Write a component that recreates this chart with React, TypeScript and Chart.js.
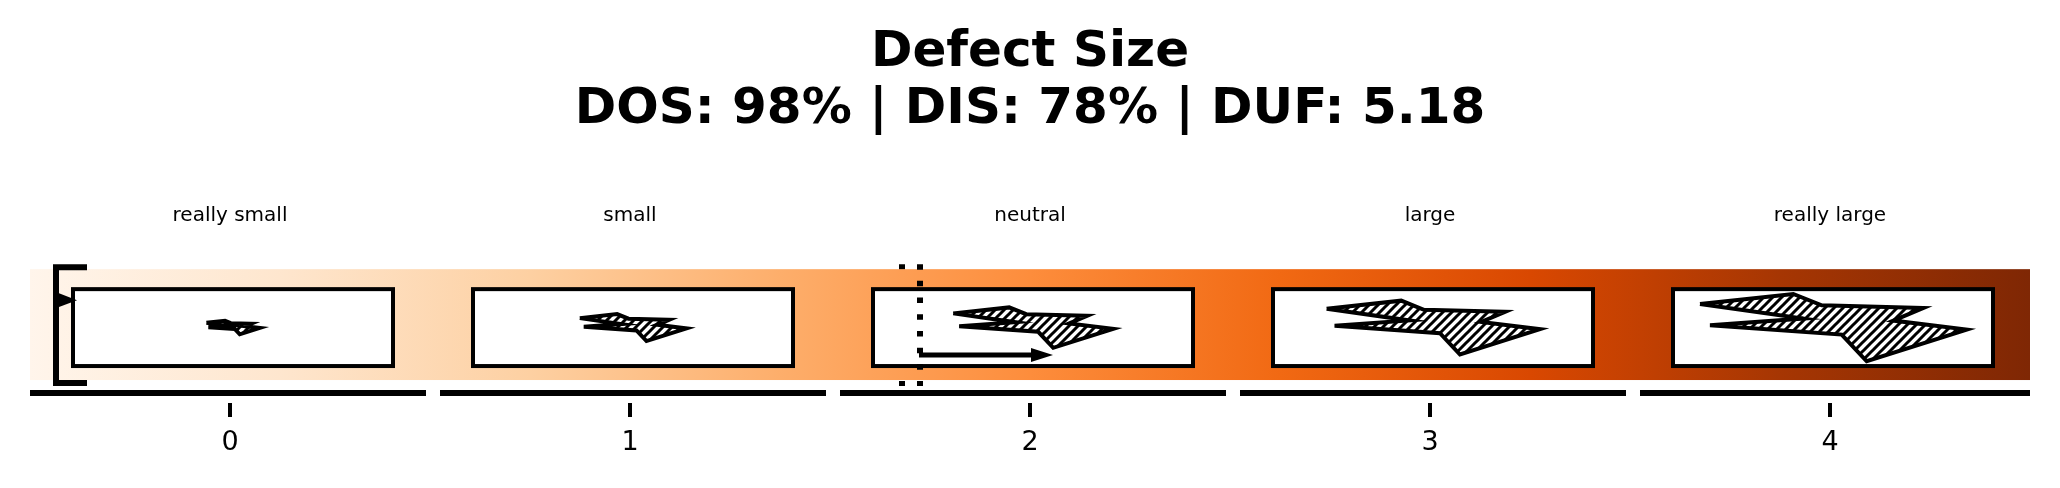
import React, { useEffect, useRef } from "react";
import { Chart, registerables } from "chart.js";

Chart.register(...registerables);

// ---- data ----
const categories = ["really small", "small", "neutral", "large", "really large"];
const tickLabels = ["0", "1", "2", "3", "4"];
const defectScale = [0.2, 0.4, 0.6, 0.8, 1.0];
const titleLines = ["Defect Size", "DOS: 98% | DIS: 78% | DUF: 5.18"];
// glyph outline at full scale (x in category units, y in axis units)
const glyphX = [-0.3325, -0.09925, -0.02825, 0.22575, 0.15075, 0.33425, 0.08425, 0.02175, -0.3075, -0.07425];
const glyphY = [23.7, 33.7, 22.3, 19.7, 7, -2, -33.7, -7, 2.3, 9];
const markerLines = [1.68, 1.725];
const shiftArrow = [1.7225, 2.0575];
const orangeStops = ["#fff5eb", "#fee6ce", "#fdd0a2", "#fdae6b", "#fd8d3c", "#f16913", "#d94801", "#a63603", "#7f2704"];

const FONT = '"DejaVu Sans", sans-serif';

function makeHatch(): CanvasPattern | string {
  const s = 9;
  const c = document.createElement("canvas");
  c.width = s;
  c.height = s;
  const g = c.getContext("2d");
  if (!g) return "#fff";
  g.fillStyle = "#fff";
  g.fillRect(0, 0, s, s);
  g.strokeStyle = "#000";
  g.lineWidth = 3;
  g.beginPath();
  g.moveTo(-1, s + 1);
  g.lineTo(s + 1, -1);
  g.moveTo(-2, 2);
  g.lineTo(2, -2);
  g.moveTo(s - 2, s + 2);
  g.lineTo(s + 2, s - 2);
  g.stroke();
  const p = g.createPattern(c, "repeat");
  return p || "#fff";
}

function dotted(ctx: CanvasRenderingContext2D, x: number, y0: number, y1: number) {
  ctx.save();
  ctx.strokeStyle = "#000";
  ctx.lineWidth = 6;
  ctx.lineCap = "butt";
  ctx.setLineDash([5.5, 11.2]);
  ctx.beginPath();
  ctx.moveTo(x, y0);
  ctx.lineTo(x, y1);
  ctx.stroke();
  ctx.restore();
}

const decor = {
  id: "decor",
  beforeDatasetsDraw(chart: any) {
    const { ctx, scales } = chart;
    const X = (v: number) => scales.x.getPixelForValue(v);
    const Y = (v: number) => scales.y.getPixelForValue(v);
    ctx.save();
    // threshold line drawn behind the band
    dotted(ctx, X(markerLines[0]), Y(63.5), Y(-58.5));
    // gradient band
    const g = ctx.createLinearGradient(X(-0.5), 0, X(4.5), 0);
    orangeStops.forEach((c, i) => g.addColorStop(i / (orangeStops.length - 1), c));
    ctx.fillStyle = g;
    ctx.fillRect(X(-0.5), Y(58.5), X(4.5) - X(-0.5), Y(-52.5) - Y(58.5));
    // category boxes
    categories.forEach((_, i) => {
      const l = X(i - 0.3925), r = X(i + 0.4075), t = Y(38.5), b = Y(-38.5);
      ctx.fillStyle = "#fff";
      ctx.fillRect(l, t, r - l, b - t);
      ctx.strokeStyle = "#000";
      ctx.lineWidth = 4;
      ctx.lineJoin = "miter";
      ctx.strokeRect(l, t, r - l, b - t);
    });
    // segmented axis line
    ctx.strokeStyle = "#000";
    ctx.lineWidth = 6;
    ctx.lineCap = "butt";
    const last = categories.length - 1;
    categories.forEach((_, i) => {
      const a = i === 0 ? -0.5 : i - 0.475;
      const e = i === last ? last + 0.5 : i + 0.49;
      ctx.beginPath();
      ctx.moveTo(X(a), Y(-65.5));
      ctx.lineTo(X(e), Y(-65.5));
      ctx.stroke();
    });
    // bracket
    ctx.lineJoin = "miter";
    ctx.beginPath();
    ctx.moveTo(X(-0.3575), Y(60.5));
    ctx.lineTo(X(-0.435), Y(60.5));
    ctx.lineTo(X(-0.435), Y(-55.5));
    ctx.lineTo(X(-0.3575), Y(-55.5));
    ctx.stroke();
    // caret marker
    ctx.fillStyle = "#000";
    ctx.beginPath();
    ctx.moveTo(X(-0.4275), Y(34.5));
    ctx.lineTo(X(-0.3825), Y(27.5));
    ctx.lineTo(X(-0.4275), Y(20.5));
    ctx.closePath();
    ctx.fill();
    ctx.restore();
  },
  afterDatasetsDraw(chart: any) {
    const { ctx, scales } = chart;
    const X = (v: number) => scales.x.getPixelForValue(v);
    const Y = (v: number) => scales.y.getPixelForValue(v);
    dotted(ctx, X(markerLines[1]), Y(63.5), Y(-58.5));
    ctx.save();
    const x0 = X(shiftArrow[0]), x1 = X(shiftArrow[1]), yy = Y(-27.5);
    ctx.strokeStyle = "#000";
    ctx.fillStyle = "#000";
    ctx.lineWidth = 5;
    ctx.beginPath();
    ctx.moveTo(x0, yy);
    ctx.lineTo(x1 - 18, yy);
    ctx.stroke();
    ctx.beginPath();
    ctx.moveTo(x1, yy);
    ctx.lineTo(x1 - 22, yy - 7);
    ctx.lineTo(x1 - 22, yy + 7);
    ctx.closePath();
    ctx.fill();
    ctx.restore();
  },
};

export default function App() {
  const ref = useRef<HTMLCanvasElement | null>(null);
  useEffect(() => {
    document.body.style.margin = "0";
    const canvas = ref.current;
    if (!canvas) return;
    const hatch = makeHatch();
    const ring = (arr: number[]) => arr.concat(arr[0]);
    const gx = ring(glyphX), gy = ring(glyphY);
    const fixedTicks = (s: any) => {
      s.ticks = tickLabels.map((_, i) => ({ value: i }));
    };
    const chart = new Chart(canvas, {
      type: "line",
      data: {
        datasets: categories.map((c, i) => ({
          label: c,
          data: gx.map((vx, k) => ({ x: i + 0.0075 + vx * defectScale[i], y: gy[k] * defectScale[i] })),
          borderColor: "#000",
          borderWidth: 4,
          backgroundColor: hatch as any,
          fill: "shape",
          pointRadius: 0,
          tension: 0,
          borderJoinStyle: "miter",
          borderCapStyle: "butt",
        })),
      },
      options: {
        responsive: false,
        animation: false,
        devicePixelRatio: 1,
        layout: { padding: { left: 30, right: 30, top: 0, bottom: 18.6 } },
        plugins: {
          legend: { display: false },
          tooltip: { enabled: false },
          title: {
            display: true,
            text: titleLines,
            color: "#000",
            font: { family: FONT, size: 50, weight: "bold", lineHeight: 57 / 50 },
            padding: { top: 24.4, bottom: 53.8 },
          },
        },
        scales: {
          x: {
            type: "linear",
            position: "bottom",
            min: -0.5,
            max: 4.5,
            afterBuildTicks: fixedTicks,
            border: { display: false },
            grid: { display: true, drawOnChartArea: false, drawTicks: true, tickLength: 14, lineWidth: 4, color: "#000" },
            ticks: {
              color: "#000",
              font: { family: FONT, size: 27 },
              padding: 10,
              maxRotation: 0,
              autoSkip: false,
              callback: (v: any) => tickLabels[Math.round(Number(v))],
            },
          },
          xTop: {
            type: "linear",
            position: "top",
            min: -0.5,
            max: 4.5,
            afterBuildTicks: fixedTicks,
            border: { display: false },
            grid: { display: false, drawTicks: false, tickLength: 0 },
            ticks: {
              color: "#000",
              font: { family: FONT, size: 20 },
              padding: 12,
              maxRotation: 0,
              autoSkip: false,
              callback: (v: any) => categories[Math.round(Number(v))],
            },
          },
          y: { type: "linear", display: false, min: -75.5, max: 87.5 },
        },
      } as any,
      plugins: [decor],
    });
    return () => chart.destroy();
  }, []);
  return (
    <div style={{ position: "absolute", left: 0, top: 0, width: 2060, height: 488 }}>
      <canvas ref={ref} width={2060} height={488} style={{ display: "block", width: 2060, height: 488 }} />
    </div>
  );
}
